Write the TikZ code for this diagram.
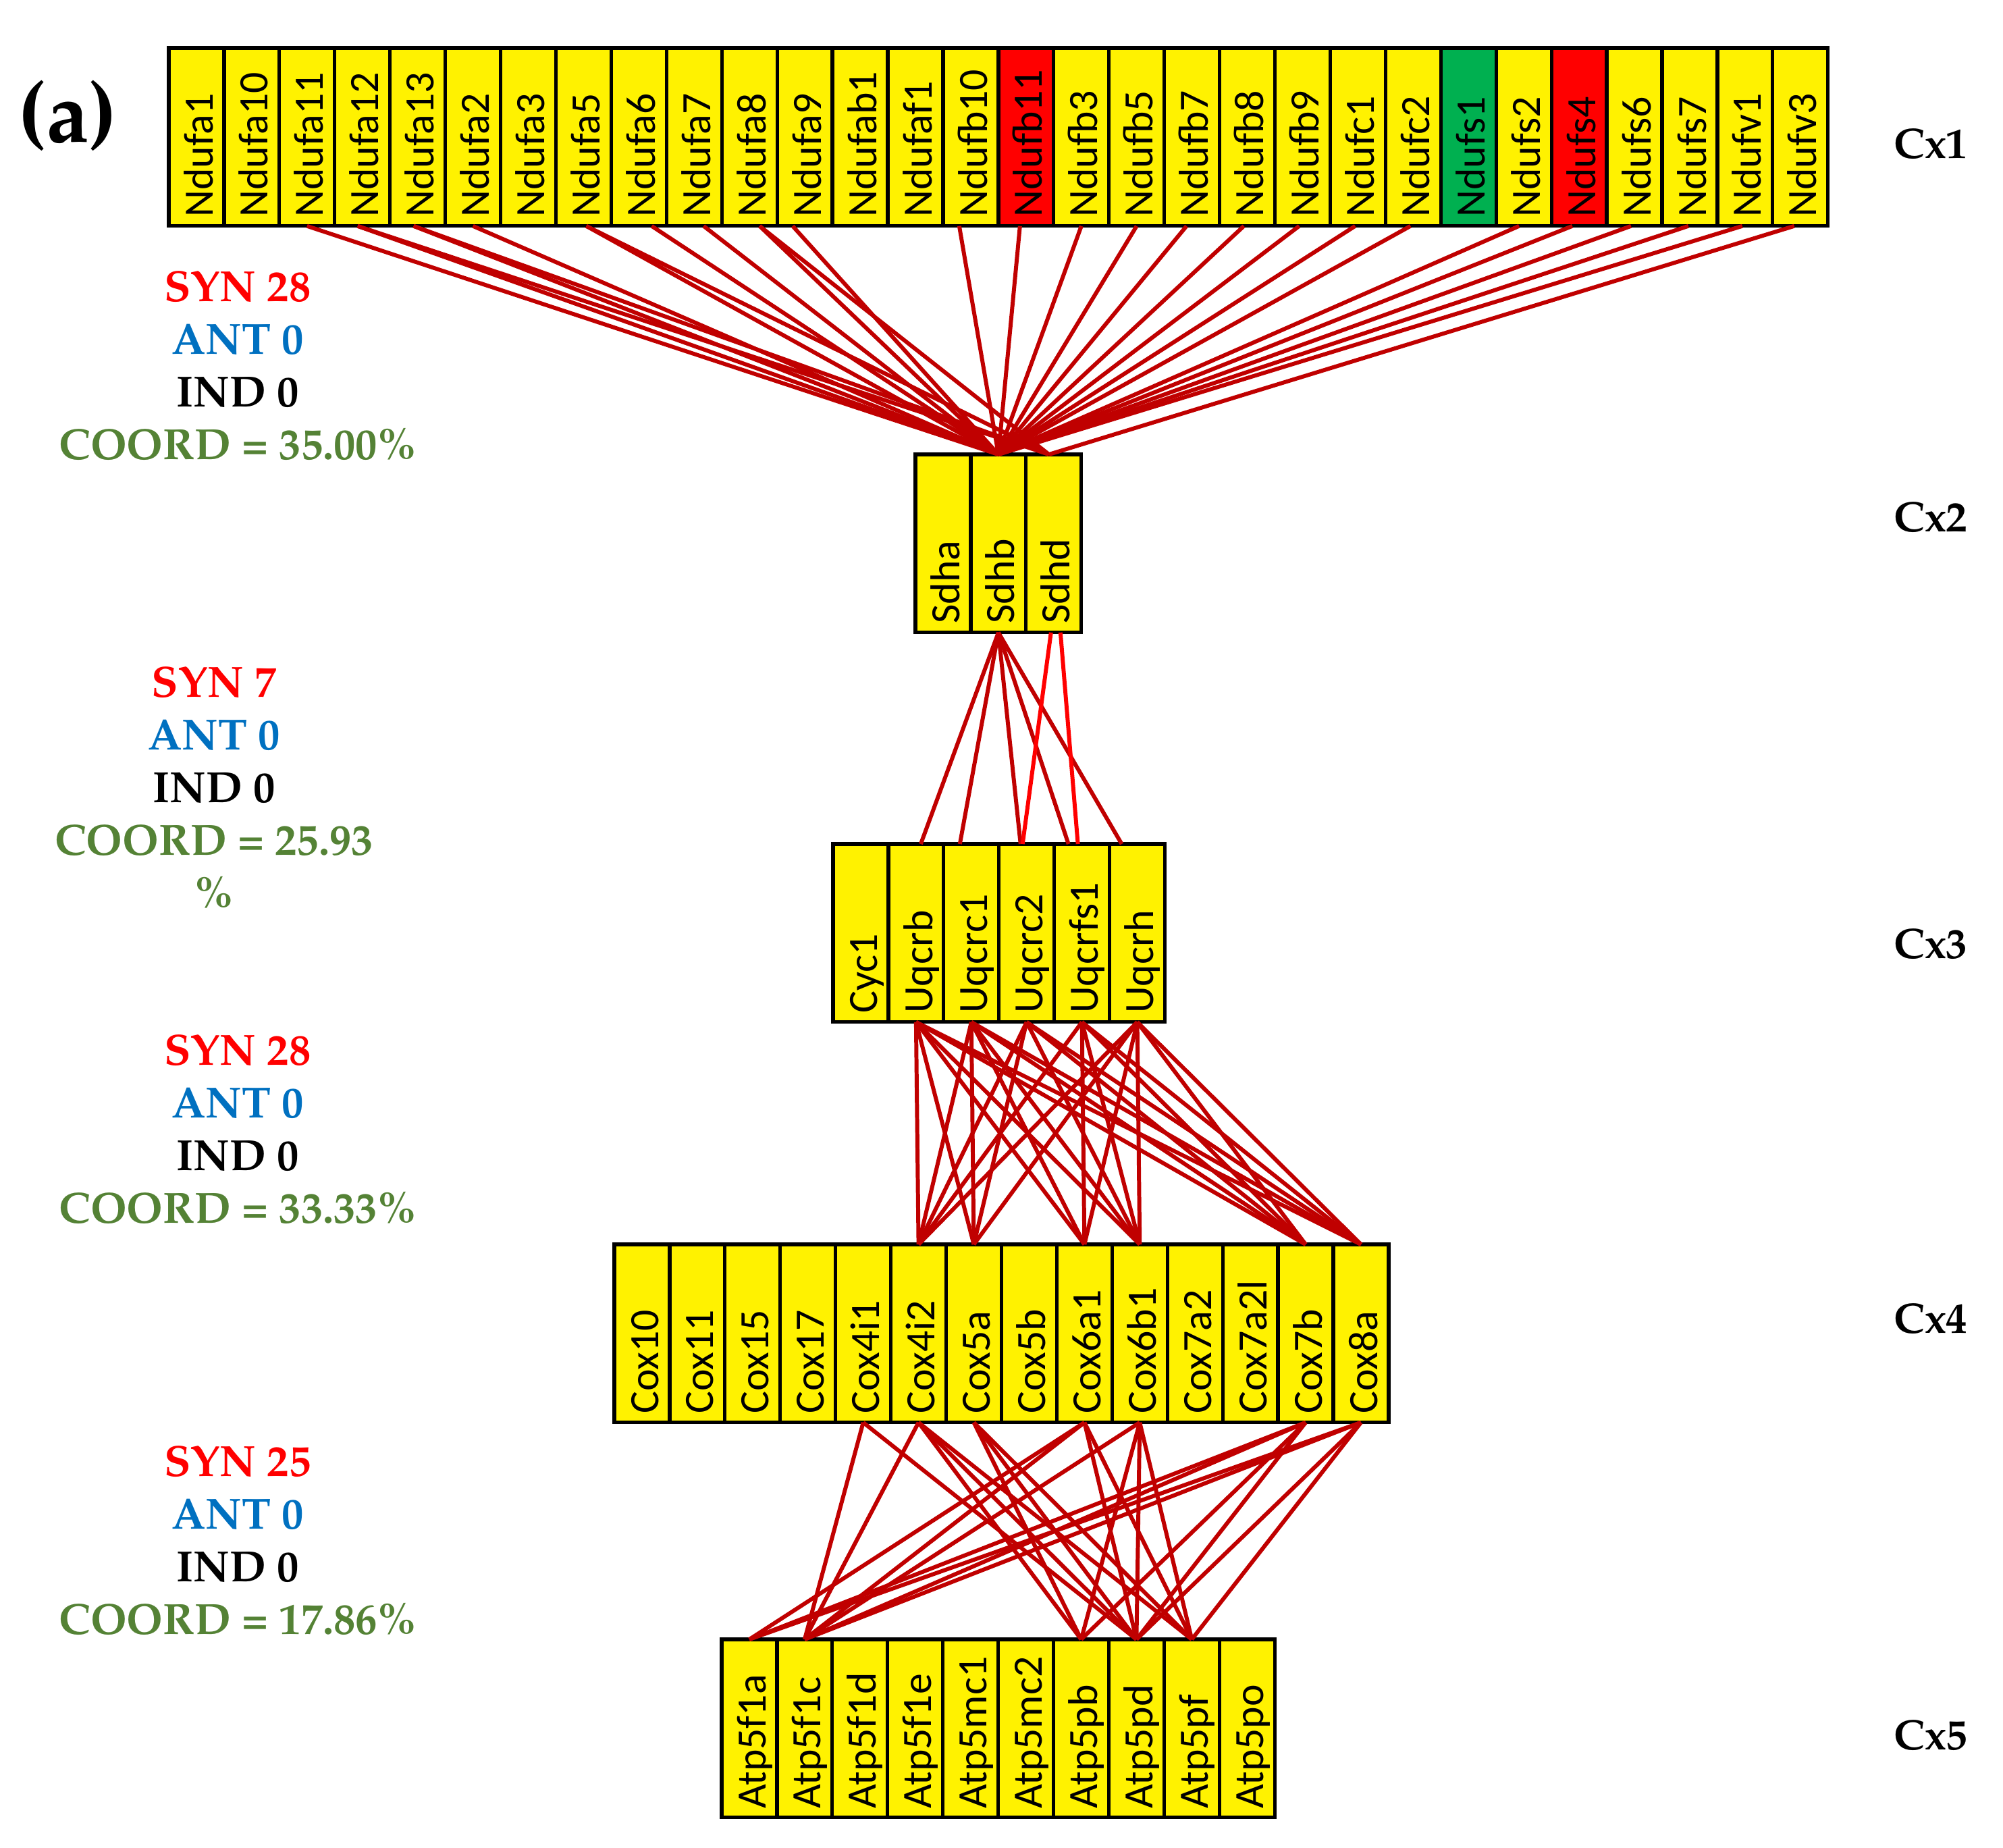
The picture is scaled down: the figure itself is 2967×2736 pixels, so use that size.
\documentclass[tikz,border=0pt]{standalone}
\usepackage[T1]{fontenc}
\usepackage{fontspec}
\usepackage{graphicx}
\usepackage{tikz}
\usetikzlibrary{positioning,calc}
\newfontfamily\genefont{Carlito}
\newcommand\palbf{\fontencoding{T1}\fontfamily{ppl}\fontseries{b}\fontshape{n}\selectfont}
\newcommand\gene[1]{\rotatebox{90}{\makebox[1.19cm][l]{\rule[-0.1em]{0pt}{0.98em}\smash{#1}}}}
\definecolor{linkred}{RGB}{192,0,0}
\definecolor{synred}{RGB}{255,0,0}
\definecolor{antblue}{RGB}{0,112,192}
\definecolor{coordgreen}{RGB}{84,130,53}
\definecolor{cellgreen}{RGB}{0,176,80}

\begin{document}
\begin{tikzpicture}
    [x=0.005cm,y=-0.005cm,
    cell/.style={draw=black,line width=0.75pt,fill=yellow,minimum width=0.41cm,minimum height=1.32cm,inner sep=0pt,outer sep=0pt,font=\genefont\fontsize{8.8}{10}\selectfont},
    link/.style={draw=linkred,line width=0.85pt},
    stat/.style={align=center,inner sep=0pt,font=\palbf\fontsize{9.2}{11.1}\selectfont},
    cxlabel/.style={inner sep=0pt,font=\palbf\fontsize{9}{11}\selectfont}]
    \useasboundingbox (0,0) rectangle (2967,2736);

    % Cx1
    \node[cell,anchor=north west] (Ndufa1) at (250,71) {\gene{Ndufa1}};
    \foreach \g/\c [remember=\g as \p (initially Ndufa1)] in {Ndufa10/yellow,Ndufa11/yellow,Ndufa12/yellow,Ndufa13/yellow,Ndufa2/yellow,Ndufa3/yellow,Ndufa5/yellow,Ndufa6/yellow,Ndufa7/yellow,Ndufa8/yellow,Ndufa9/yellow,Ndufab1/yellow,Ndufaf1/yellow,Ndufb10/yellow,Ndufb11/red,Ndufb3/yellow,Ndufb5/yellow,Ndufb7/yellow,Ndufb8/yellow,Ndufb9/yellow,Ndufc1/yellow,Ndufc2/yellow,Ndufs1/cellgreen,Ndufs2/yellow,Ndufs4/red,Ndufs6/yellow,Ndufs7/yellow,Ndufv1/yellow,Ndufv3/yellow}
        \node[cell,fill=\c,right=0pt of \p] (\g) {\gene{\g}};

    % Cx2
    \node[cell,anchor=north west] (Sdha) at (1356,673) {\gene{Sdha}};
    \node[cell,right=0pt of Sdha] (Sdhb) {\gene{Sdhb}};
    \node[cell,right=0pt of Sdhb] (Sdhd) {\gene{Sdhd}};

    % Cx3
    \node[cell,anchor=north west] (Cyc1) at (1234,1250) {\gene{Cyc1}};
    \foreach \g [remember=\g as \p (initially Cyc1)] in {Uqcrb,Uqcrc1,Uqcrc2,Uqcrfs1,Uqcrh}
        \node[cell,right=0pt of \p] (\g) {\gene{\g}};

    % Cx4
    \node[cell,anchor=north west] (Cox10) at (910,1843) {\gene{Cox10}};
    \foreach \g [remember=\g as \p (initially Cox10)] in {Cox11,Cox15,Cox17,Cox4i1,Cox4i2,Cox5a,Cox5b,Cox6a1,Cox6b1,Cox7a2,Cox7a2l,Cox7b,Cox8a}
        \node[cell,right=0pt of \p] (\g) {\gene{\g}};

    % Cx5
    \node[cell,anchor=north west] (Atp5f1a) at (1069,2428) {\gene{Atp5f1a}};
    \foreach \g [remember=\g as \p (initially Atp5f1a)] in {Atp5f1c,Atp5f1d,Atp5f1e,Atp5mc1,Atp5mc2,Atp5pb,Atp5pd,Atp5pf,Atp5po}
        \node[cell,right=0pt of \p] (\g) {\gene{\g}};

    % Cx1 -> Cx2
    \foreach \g/\dx in {Ndufa11/0,Ndufa12/-7,Ndufa13/-6,Ndufa2/0,Ndufa5/4,Ndufa6/19,Ndufa7/14,Ndufa8/15,Ndufa9/-18,Ndufb10/-17,Ndufb11/-9,Ndufb3/0,Ndufb5/0,Ndufb7/-8,Ndufb8/-5,Ndufb9/-5,Ndufc1/-4,Ndufc2/-4,Ndufs2/-7,Ndufs4/-10,Ndufs6/-5,Ndufs7/-2,Ndufv1/-4}
        \draw[link] ($(\g.south)+(\dx,0)$) -- (Sdhb.north);
    \foreach \g/\dx in {Ndufa12/-7,Ndufa13/-6,Ndufa5/4,Ndufa8/15,Ndufv3/-9}
        \draw[link] ($(\g.south)+(\dx,0)$) -- ($(Sdhd.north)+(-7,0)$);

    % Cx2 -> Cx3
    \foreach \t/\dx in {Uqcrb/7,Uqcrc1/-17,Uqcrc2/-9,Uqcrfs1/-20,Uqcrh/-23}
        \draw[link] (Sdhb.south) -- ($(\t.north)+(\dx,0)$);
    \draw[link,draw=synred] ($(Sdhd.south)+(-4,0)$) -- ($(Uqcrc2.north)+(-6,0)$);
    \draw[link,draw=synred] ($(Sdhd.south)+(10,0)$) -- ($(Uqcrfs1.north)+(-6,0)$);

    % Cx3 -> Cx4
    \foreach \s/\t in {Uqcrb/Cox4i2,Uqcrb/Cox5a,Uqcrb/Cox6a1,Uqcrb/Cox6b1,Uqcrb/Cox7b,Uqcrb/Cox8a,
        Uqcrc1/Cox4i2,Uqcrc1/Cox5a,Uqcrc1/Cox6a1,Uqcrc1/Cox6b1,Uqcrc1/Cox7b,Uqcrc1/Cox8a,
        Uqcrc2/Cox4i2,Uqcrc2/Cox5a,Uqcrc2/Cox6b1,Uqcrc2/Cox7b,Uqcrc2/Cox8a,
        Uqcrfs1/Cox4i2,Uqcrfs1/Cox6a1,Uqcrfs1/Cox6b1,Uqcrfs1/Cox7b,Uqcrfs1/Cox8a,
        Uqcrh/Cox4i2,Uqcrh/Cox5a,Uqcrh/Cox6a1,Uqcrh/Cox6b1,Uqcrh/Cox7b,Uqcrh/Cox8a}
        \draw[link] (\s.south) -- (\t.north);

    % Cx4 -> Cx5
    \foreach \s/\t in {Cox4i1/Atp5f1c,Cox4i1/Atp5pd,
        Cox4i2/Atp5f1c,Cox4i2/Atp5pb,Cox4i2/Atp5pd,Cox4i2/Atp5pf,
        Cox5a/Atp5pb,Cox5a/Atp5pd,Cox5a/Atp5pf,
        Cox6a1/Atp5f1a,Cox6a1/Atp5f1c,Cox6a1/Atp5pd,Cox6a1/Atp5pf,
        Cox6b1/Atp5f1c,Cox6b1/Atp5pb,Cox6b1/Atp5pd,Cox6b1/Atp5pf,
        Cox7b/Atp5f1a,Cox7b/Atp5f1c,Cox7b/Atp5pb,Cox7b/Atp5pd,
        Cox8a/Atp5f1a,Cox8a/Atp5f1c,Cox8a/Atp5pd,Cox8a/Atp5pf}
        \draw[link] (\s.south) -- (\t.north);

    % counts
    \node[stat] (statA) at (352,541) {\textcolor{synred}{SYN 28}\\\textcolor{antblue}{ANT 0}\\IND 0\\\textcolor{coordgreen}{COORD = 35.00\%}};
    \node[stat] (statB) at (317,1166) {\textcolor{synred}{SYN 7}\\\textcolor{antblue}{ANT 0}\\IND 0\\\textcolor{coordgreen}{COORD = 25.93}\\\textcolor{coordgreen}{\%}};
    \node[stat] (statC) at (352,1672) {\textcolor{synred}{SYN 28}\\\textcolor{antblue}{ANT 0}\\IND 0\\\textcolor{coordgreen}{COORD = 33.33\%}};
    \node[stat] (statD) at (352,2281) {\textcolor{synred}{SYN 25}\\\textcolor{antblue}{ANT 0}\\IND 0\\\textcolor{coordgreen}{COORD = 17.86\%}};

    \node[cxlabel] (cx1) at (2860,213) {Cx1};
    \node[cxlabel] (cx2) at (2860,766) {Cx2};
    \node[cxlabel] (cx3) at (2860,1398) {Cx3};
    \node[cxlabel] (cx4) at (2860,1953) {Cx4};
    \node[cxlabel] (cx5) at (2860,2570) {Cx5};
    \node[inner sep=0pt,font=\palbf\fontsize{18}{21}\selectfont] (panel) at (100,172) {(a)};
\end{tikzpicture}
\end{document}
